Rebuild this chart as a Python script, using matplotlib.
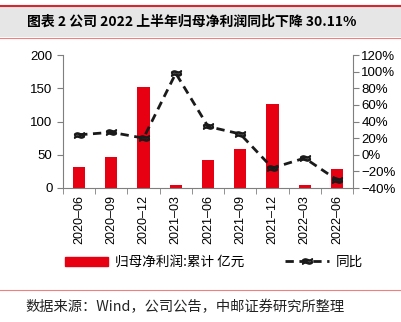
import numpy as np
import matplotlib.pyplot as plt
from matplotlib.patches import Rectangle
from matplotlib.lines import Line2D

plt.rcParams['font.family'] = ['Noto Sans CJK SC', 'DejaVu Sans']

# ── Data ─────────────────────────────────────────────
periods = ["2020-06", "2020-09", "2020-12", "2021-03", "2021-06",
           "2021-09", "2021-12", "2022-03", "2022-06"]
net_profit = [31, 47, 152, 5, 42, 58, 126, 5, 29]          # 亿元
yoy_pct = [24, 27, 20, 98, 34, 25, -16, -4, -30.11]        # %

RED = "#E60012"
GREY = "#7f7f7f"
NUM_FONT = "Liberation Sans"

fig = plt.figure(figsize=(4.01, 3.22), dpi=100)

# title band
fig.patches.append(Rectangle((0, 1 - 37 / 322), 1, 31 / 322, transform=fig.transFigure,
                             facecolor="#e6e6e6", edgecolor="none", zorder=0))
fig.add_artist(Line2D([0, 1], [1 - 6 / 322] * 2, color="#d7262e", lw=1.5))
fig.add_artist(Line2D([0, 1], [1 - 38 / 322] * 2, color="#f08080", lw=0.8))
fig.text(27 / 401, 1 - 22 / 322, "图表 2 公司 2022 上半年归母净利润同比下降 30.11%",
         fontsize=10, fontweight="bold", va="center", ha="left")

# footer
fig.add_artist(Line2D([0, 1], [1 - 290 / 322] * 2, color="#f08080", lw=0.8))
fig.text(25 / 401, 1 - 307 / 322, "数据来源：Wind，公司公告，中邮证券研究所整理",
         fontsize=10.3, va="center", ha="left", color="#222222")

ax = fig.add_axes([63 / 401, 1 - 188 / 322, 290 / 401, 133 / 322])
x = np.arange(len(periods))
ax.bar(x, net_profit, width=0.38, color=RED, zorder=2)
ax.set_xlim(-0.5, len(periods) - 0.5)
ax.set_ylim(0, 200)
ax.set_yticks([0, 50, 100, 150, 200])
ax.set_xticks(x)
ax.set_xticklabels([p.replace("-", "\u2013") for p in periods], rotation=90,
                   fontsize=9, family=NUM_FONT)
ax.set_xticks(np.arange(-0.5, len(periods)), minor=True)
ax.tick_params(axis="x", which="major", length=0, pad=5)
ax.tick_params(axis="x", which="minor", length=4, color=GREY, direction="out")
ax.tick_params(axis="y", length=4, color=GREY, labelsize=9.5)
for lbl in ax.get_yticklabels():
    lbl.set_family(NUM_FONT)
for s in ["top", "right"]:
    ax.spines[s].set_visible(False)
ax.spines["left"].set_color(GREY)
ax.spines["bottom"].set_color(GREY)

ax2 = ax.twinx()
ax2.plot(x, yoy_pct, color="#1a1a1a", lw=2, ls=(0, (3, 2)),
         marker="$\\approx$", markersize=7, zorder=3)
ax2.set_ylim(-40, 120)
ax2.set_yticks(np.arange(-40, 121, 20))
ax2.set_yticklabels([f"{v}%".replace("-", "\u2212") for v in range(-40, 121, 20)],
                    family=NUM_FONT)
ax2.tick_params(axis="y", length=4, color=GREY, labelsize=9.5, pad=2)
for s in ["top", "left", "bottom"]:
    ax2.spines[s].set_visible(False)
ax2.spines["right"].set_color(GREY)

handles = [Rectangle((0, 0), 1, 1, color=RED),
           Line2D([], [], color="#1a1a1a", lw=2, ls=(0, (3, 2)),
                  marker="$\\approx$", markersize=7)]
fig.legend(handles, ["归母净利润:累计 亿元", "同比"], loc="center",
           bbox_to_anchor=(214 / 401, 1 - 262 / 322), ncol=2, frameon=False,
           fontsize=9.8, handlelength=3.2, handleheight=0.6,
           columnspacing=3.0, handletextpad=0.5)

fig.savefig("out.png", dpi=100)
